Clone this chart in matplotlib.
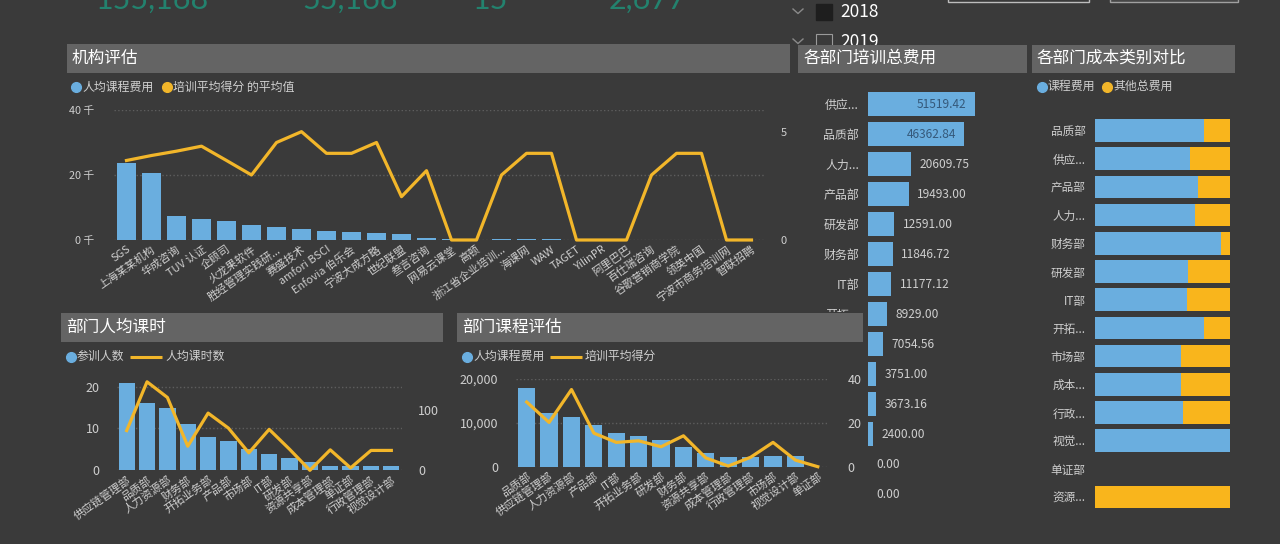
import matplotlib.pyplot as plt
from matplotlib.patches import Rectangle
from matplotlib.ticker import FuncFormatter

plt.rcParams['font.family'] = ['Noto Sans CJK SC', 'DejaVu Sans']

# ---- data ----
kpi_values = ['155,168', '55,168', '15', '2,677']
years = ['2018', '2019']

orgs = ['SGS', '上海某某机构', '华成咨询', 'TUV 认证', '企顾司', '火龙果软件',
        '胜经管理实践研...', '赛盛技术', 'amfori BSCI', 'Enfovia 伯乐会', '宁波大成方略',
        '世纪联盟', '叁言咨询', '网易云课堂', '高顿', '浙江省企业培训...', '海课网', 'WAW',
        'TAGET', 'YilinPR', '阿里巴巴', '百仕瑞咨询', '谷歌营销商学院', '领英中国',
        '宁波市商务培训网', '智联招聘']
org_cost = [23800, 20500, 7400, 6500, 6000, 4600, 3900, 3400, 2900, 2600, 2300,
            1900, 700, 400, 0, 300, 300, 300, 0, 0, 0, 0, 0, 0, 0, 0]
org_score = [3.67, 3.9, 4.1, 4.33, 3.67, 3.0, 4.5, 5.0, 4.0, 4.0, 4.5,
             2.0, 3.2, 0, 0, 3.0, 4.0, 4.0, 0, 0, 0, 3.0, 4.0, 4.0, 0, 0]

dept_h = ['供应链管理部', '品质部', '人力资源部', '财务部', '开拓业务部', '产品部', '市场部',
          'IT部', '研发部', '资源共享部', '成本管理部', '单证部', '行政管理部', '视觉设计部']
people = [21, 16, 15, 11, 8, 7, 5, 4, 3, 2, 1, 1, 1, 1]
hours = [66, 147, 121, 40, 95, 70, 29, 68, 35, 0, 34, 4, 33, 33]

dept_c = ['品质部', '供应链管理部', '人力资源部', '产品部', 'IT部', '开拓业务部', '研发部',
          '财务部', '资源共享部', '成本管理部', '行政管理部', '市场部', '视觉设计部', '单证部']
course_cost = [17950, 12360, 11360, 9400, 7580, 7050, 6140, 4550, 3110, 2300, 2300, 2350, 2400, 0]
course_score = [29.5, 20.2, 35.2, 15.3, 11.1, 11.8, 9.1, 14.1, 4.0, 0.3, 4.3, 11.1, 3.0, 0]

dept_t = ['供应...', '品质部', '人力...', '产品部', '研发部', '财务部', 'IT部', '开拓...',
          '市场部', '成本...', '行政...', '视觉...', '单证部', '资源...']
total_cost = [51519.42, 46362.84, 20609.75, 19493.00, 12591.00, 11846.72, 11177.12,
              8929.00, 7054.56, 3751.00, 3673.16, 2400.00, 0.00, 0.00]

dept_r = ['品质部', '供应...', '产品部', '人力...', '财务部', '研发部', 'IT部', '开拓...',
          '市场部', '成本...', '行政...', '视觉...', '单证部', '资源...']
course_share = [0.81, 0.70, 0.76, 0.74, 0.93, 0.69, 0.68, 0.805, 0.64, 0.64, 0.655, 1.0, 0, 0]
other_share = [0.19, 0.30, 0.24, 0.26, 0.07, 0.31, 0.32, 0.195, 0.36, 0.36, 0.345, 0, 0, 1.0]

# ---- style ----
W, H = 1280, 544
BG = '#3a3a3a'
BAR_BG = '#646464'
BLUE = '#6aaedf'
ORANGE = '#f2b62a'
TXT = '#cfcfcf'
GRID = '#5e5e5e'

fig = plt.figure(figsize=(W / 100, H / 100), dpi=100, facecolor=BG)


def box(x, y, w, h):
    # pixel rectangle (from top-left) -> figure fraction
    return [x / W, 1 - (y + h) / H, w / W, h / H]


def clean(ax):
    ax.set_facecolor('none')
    for s in ax.spines.values():
        s.set_visible(False)
    ax.tick_params(length=0, colors=TXT)


# overlay for title bars, legends and the bits at the top
ov = fig.add_axes([0, 0, 1, 1], zorder=2)
ov.set_xlim(0, W)
ov.set_ylim(H, 0)
ov.axis('off')


def title_bar(x, y, w, h, text):
    ov.add_patch(Rectangle((x, y), w, h, facecolor=BAR_BG, edgecolor='none', zorder=3))
    ov.text(x + 5, y + h / 2, text, color='white', fontsize=12, va='center', ha='left', zorder=4)


def legend_dot(x, y, color, text):
    ov.plot([x], [y], 'o', color=color, ms=7, zorder=4)
    ov.text(x + 6, y, text, color=TXT, fontsize=8.6, va='center', ha='left', zorder=4)


def legend_line(x0, x1, y, color, text):
    ov.plot([x0, x1], [y, y], color=color, lw=2.2, zorder=4, solid_capstyle='butt')
    ov.text(x1 + 3, y, text, color=TXT, fontsize=8.6, va='center', ha='left', zorder=4)


# KPI numbers, mostly cut off at the top
for cx, s in zip([152, 350, 490, 648], kpi_values):
    ov.text(cx, 9, s, ha='center', va='baseline', fontsize=22, color='#23826e',
            family=['Lato', 'DejaVu Sans'], zorder=2)

# year slicer
for i, yr in enumerate(years):
    yc = 12 + 30 * i
    ov.plot([793, 798, 803], [yc - 3, yc + 1.5, yc - 3], color='#8a8a8a', lw=1, zorder=1.5)
    if i == 0:
        ov.add_patch(Rectangle((816, yc - 8), 16, 16, facecolor='#1e1e1e', edgecolor='#1e1e1e', zorder=1.5))
    else:
        ov.add_patch(Rectangle((816, yc - 8), 16, 16, facecolor='none', edgecolor='#9a9a9a', lw=0.8, zorder=1.5))
    ov.text(840, yc, yr, color='white', fontsize=12.5, va='center', ha='left', zorder=1.5)
ov.add_patch(Rectangle((948, -20), 141, 22.3, facecolor='none', edgecolor='#bdbdbd', lw=1, zorder=1.5))
ov.add_patch(Rectangle((1110, -20), 128, 22, facecolor='#474747', edgecolor='#a0a0a0', lw=1, zorder=1.5))

# background of the 部门课程评估 panel hides the lower labels of the total cost chart
ov.add_patch(Rectangle((450, 312), 416, 232, facecolor=BG, edgecolor='none', zorder=0.5))

title_bar(66.7, 44, 723, 28.5, '机构评估')
title_bar(61, 312.7, 382, 29.3, '部门人均课时')
title_bar(457.3, 312.7, 406, 29.3, '部门课程评估')
title_bar(798.3, 44.5, 228.4, 28, '各部门培训总费用')
title_bar(1031.7, 44.5, 203.3, 28, '各部门成本类别对比')

legend_dot(76, 87, BLUE, '人均课程费用')
legend_dot(167, 87, ORANGE, '培训平均得分 的平均值')
legend_dot(71, 356.7, BLUE, '参训人数')
legend_line(130, 162, 356.7, ORANGE, '人均课时数')
legend_dot(467.3, 356.7, BLUE, '人均课程费用')
legend_line(550, 582, 356.7, ORANGE, '培训平均得分')
legend_dot(1041.7, 86.7, BLUE, '课程费用')
legend_dot(1107.3, 86.7, ORANGE, '其他总费用')

# ---- 机构评估 ----
ax1 = fig.add_axes(box(114, 110, 650, 130), zorder=3)
clean(ax1)
x1 = list(range(len(orgs)))
ax1.bar(x1, org_cost, width=0.77, color=BLUE)
ax1.set_xlim(-0.5, len(orgs) - 0.5)
ax1.set_ylim(0, 40000)
ax1.set_yticks([0, 20000, 40000])
ax1.yaxis.set_major_formatter(FuncFormatter(lambda v, p: f'{v / 1000:.0f} 千'))
ax1.tick_params(axis='y', pad=14, labelsize=7.8)
ax1.set_xticks(x1)
ax1.set_xticklabels(orgs, rotation=35, ha='right', rotation_mode='anchor', fontsize=7.9)
ax1.tick_params(axis='x', pad=3)
ax1.grid(axis='y', color=GRID, ls=':', lw=1)
ax1.set_axisbelow(True)
ax1b = ax1.twinx()
ax1b.set_zorder(4)
clean(ax1b)
ax1b.plot(x1, org_score, color=ORANGE, lw=2.3, clip_on=False)
ax1b.set_ylim(0, 6)
ax1b.set_yticks([0, 5])
ax1b.tick_params(axis='y', pad=12, labelsize=8)

# ---- 部门人均课时 ----
ax2 = fig.add_axes(box(116.5, 380, 285, 90.3), zorder=3)
clean(ax2)
x2 = list(range(len(dept_h)))
ax2.bar(x2, people, width=0.8, color=BLUE)
ax2.set_xlim(-0.5, len(dept_h) - 0.5)
ax2.set_ylim(0, 21.6)
ax2.set_yticks([0, 10, 20])
ax2.tick_params(axis='y', pad=12, labelsize=9)
ax2.set_xticks(x2)
ax2.set_xticklabels(dept_h, rotation=35, ha='right', rotation_mode='anchor', fontsize=8)
ax2.tick_params(axis='x', pad=3)
ax2.grid(axis='y', color=GRID, ls=':', lw=1)
ax2.set_axisbelow(True)
ax2b = ax2.twinx()
ax2b.set_zorder(4)
clean(ax2b)
ax2b.plot(x2, hours, color=ORANGE, lw=2.3, clip_on=False)
ax2b.set_ylim(0, 150)
ax2b.set_yticks([0, 100])
ax2b.tick_params(axis='y', pad=12, labelsize=9)

# ---- 部门课程评估 ----
ax3 = fig.add_axes(box(515.5, 379, 313.5, 87.7), zorder=3)
clean(ax3)
x3 = list(range(len(dept_c)))
ax3.bar(x3, course_cost, width=0.77, color=BLUE)
ax3.set_xlim(-0.5, len(dept_c) - 0.5)
ax3.set_ylim(0, 20000)
ax3.set_yticks([0, 10000, 20000])
ax3.yaxis.set_major_formatter(FuncFormatter(lambda v, p: f'{v:,.0f}'))
ax3.tick_params(axis='y', pad=12.5, labelsize=9)
ax3.set_xticks(x3)
ax3.set_xticklabels(dept_c, rotation=35, ha='right', rotation_mode='anchor', fontsize=8)
ax3.tick_params(axis='x', pad=3)
ax3.grid(axis='y', color=GRID, ls=':', lw=1)
ax3.set_axisbelow(True)
ax3b = ax3.twinx()
ax3b.set_zorder(4)
clean(ax3b)
ax3b.plot(x3, course_score, color=ORANGE, lw=2.3, clip_on=False)
ax3b.set_ylim(0, 40)
ax3b.set_yticks([0, 20, 40])
ax3b.tick_params(axis='y', pad=13.5, labelsize=9)

# ---- 各部门培训总费用 ----
ax4 = fig.add_axes(box(868.3, 89, 160, 420), zorder=1)
clean(ax4)
y4 = list(range(len(dept_t)))
ax4.barh(y4, total_cost, height=0.78, color=BLUE)
ax4.set_ylim(len(dept_t) - 0.5, -0.5)
ax4.set_xlim(0, 77300)
ax4.set_xticks([])
ax4.set_yticks(y4)
ax4.set_yticklabels(dept_t, fontsize=8.6)
ax4.tick_params(axis='y', pad=6.7)
for i, v in enumerate(total_cost):
    if v > 40000:
        ax4.annotate(f'{v:.2f}', (v, i), xytext=(-6, 0), textcoords='offset points',
                     ha='right', va='center', color='#35597a', fontsize=8.6)
    else:
        ax4.annotate(f'{v:.2f}', (v, i), xytext=(6, 0), textcoords='offset points',
                     ha='left', va='center', color=TXT, fontsize=8.6)

# ---- 各部门成本类别对比 ----
ax5 = fig.add_axes(box(1095, 116.4, 135, 394.8), zorder=3)
clean(ax5)
y5 = list(range(len(dept_r)))
ax5.barh(y5, course_share, height=0.8, color=BLUE)
ax5.barh(y5, other_share, left=course_share, height=0.8, color='#f9b51c')
ax5.set_ylim(len(dept_r) - 0.5, -0.5)
ax5.set_xlim(0, 1)
ax5.set_xticks([])
ax5.set_yticks(y5)
ax5.set_yticklabels(dept_r, fontsize=8.4)
ax5.tick_params(axis='y', pad=6.7)

fig.savefig('out.png', dpi=100, facecolor=BG)
